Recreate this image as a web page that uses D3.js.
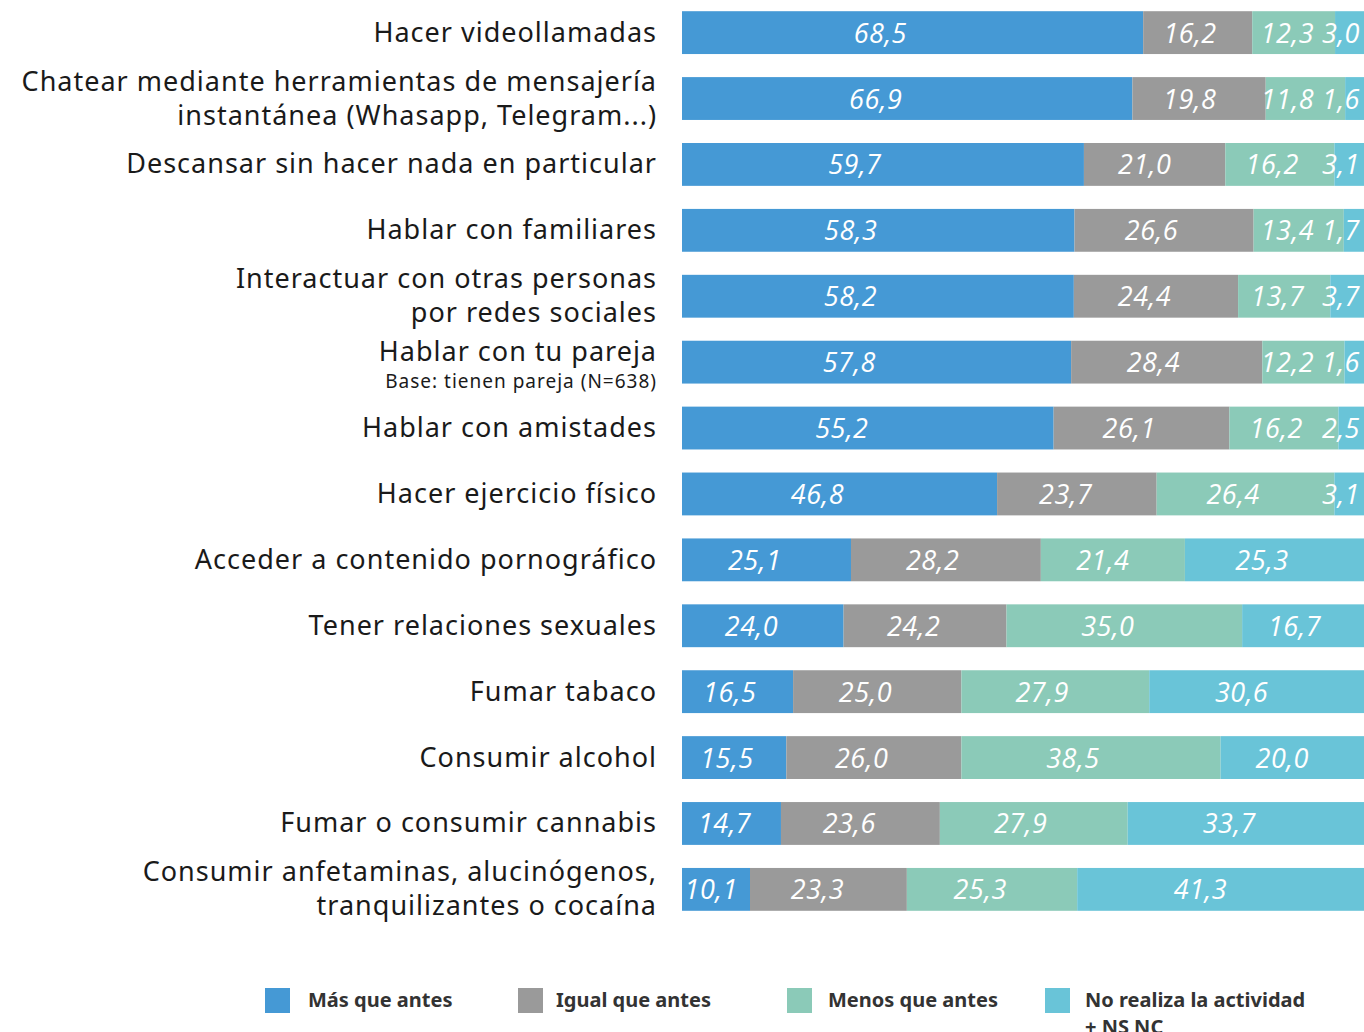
<!DOCTYPE html>
<html><head><meta charset="utf-8">
<script src="https://cdn.jsdelivr.net/npm/d3@7"></script>
<style>body{margin:0;background:#fff}svg{display:block}</style>
</head><body>
<svg id="c" width="1364" height="1032"></svg>
<script>
const categories = [
  ["Hacer videollamadas"],
  ["Chatear mediante herramientas de mensajería","instantánea (Whasapp, Telegram...)"],
  ["Descansar sin hacer nada en particular"],
  ["Hablar con familiares"],
  ["Interactuar con otras personas","por redes sociales"],
  ["Hablar con tu pareja"],
  ["Hablar con amistades"],
  ["Hacer ejercicio físico"],
  ["Acceder a contenido pornográfico"],
  ["Tener relaciones sexuales"],
  ["Fumar tabaco"],
  ["Consumir alcohol"],
  ["Fumar o consumir cannabis"],
  ["Consumir anfetaminas, alucinógenos,","tranquilizantes o cocaína"]
];
const subNotes = {5: "Base: tienen pareja (N=638)"};
const seriesNames = [["Más que antes"],["Igual que antes"],["Menos que antes"],["No realiza la actividad","+ NS NC"]];
const colors = ["#4599d5","#9a9a9a","#8bcab8","#69c4d8"];
const mas   = [68.5,66.9,59.7,58.3,58.2,57.8,55.2,46.8,25.1,24.0,16.5,15.5,14.7,10.1];
const igual = [16.2,19.8,21.0,26.6,24.4,28.4,26.1,23.7,28.2,24.2,25.0,26.0,23.6,23.3];
const menos = [12.3,11.8,16.2,13.4,13.7,12.2,16.2,26.4,21.4,35.0,27.9,38.5,27.9,25.3];
const nore  = [3.0,1.6,3.1,1.7,3.7,1.6,2.5,3.1,25.3,16.7,30.6,20.0,33.7,41.3];
const series = [mas, igual, menos, nore];

const svg = d3.select("#c");
const x = d3.scaleLinear().domain([0,101.3]).range([682,1364]);
const xEnd = x.range()[1];
const y = d3.scaleBand().domain(d3.range(categories.length)).range([0,922]).paddingInner(0.35).paddingOuter(0.17);
const fmt = v => v.toFixed(1).replace(".", ",");
const labFont = "'Noto Sans', sans-serif";

categories.forEach((lines, i) => {
  const cum = [0];
  series.forEach((s, k) => cum.push(cum[k] + s[i]));
  const g = svg.append("g");
  const segs = series.map((s, k) => ({x0: x(cum[k]), x1: k === series.length - 1 ? xEnd : x(cum[k+1]), v: s[i]}));
  segs.forEach((d, k) => {
    g.append("rect").attr("x", d.x0).attr("y", y(i)).attr("width", d.x1 - d.x0).attr("height", y.bandwidth()).attr("fill", colors[k]);
  });
  let limit = xEnd - 4;
  for (let k = segs.length - 1; k >= 0; k--) {
    const d = segs[k];
    const t = g.append("text").attr("y", y(i) + y.bandwidth()/2 + 10)
      .attr("text-anchor","middle").attr("fill","#fff")
      .style("font-family","'Open Sans', sans-serif").style("font-style","italic").style("font-size","27px")
      .style("letter-spacing","0.5px")
      .text(fmt(d.v));
    const w = t.node().getComputedTextLength();
    let cx = d.x0 + 0.43*(d.x1 - d.x0);
    if (cx + w/2 > limit) cx = limit - w/2;
    t.attr("x", cx);
    limit = cx - w/2 - 8;
  }
  const cy = y(i) + y.bandwidth()/2;
  const mk = (yy, size, txt) => svg.append("text").attr("text-anchor","end").attr("x",657).attr("y",yy)
    .attr("fill","#1a1a1a").style("font-family",labFont).style("font-size",size+"px")
    .style("letter-spacing","1px").text(txt);
  if (subNotes[i]) {
    mk(cy - 1, 27, lines[0]);
    mk(cy + 26, 19, subNotes[i]);
  } else if (lines.length === 2) {
    mk(cy - 8, 27, lines[0]);
    mk(cy + 26, 27, lines[1]);
  } else {
    mk(cy + 9, 27, lines[0]);
  }
});

const legX = [265, 518, 787, 1045];
const legTX = [308, 556, 828, 1085];
seriesNames.forEach((n, k) => {
  svg.append("rect").attr("x", legX[k]).attr("y", 988).attr("width", 25).attr("height", 25).attr("fill", colors[k]);
  n.forEach((ln, j) => svg.append("text").attr("x", legTX[k]).attr("y", 1007 + j*27)
    .attr("fill","#333").style("font-family",labFont).style("font-weight","bold").style("font-size","20px").text(ln));
});
</script>
</body></html>
